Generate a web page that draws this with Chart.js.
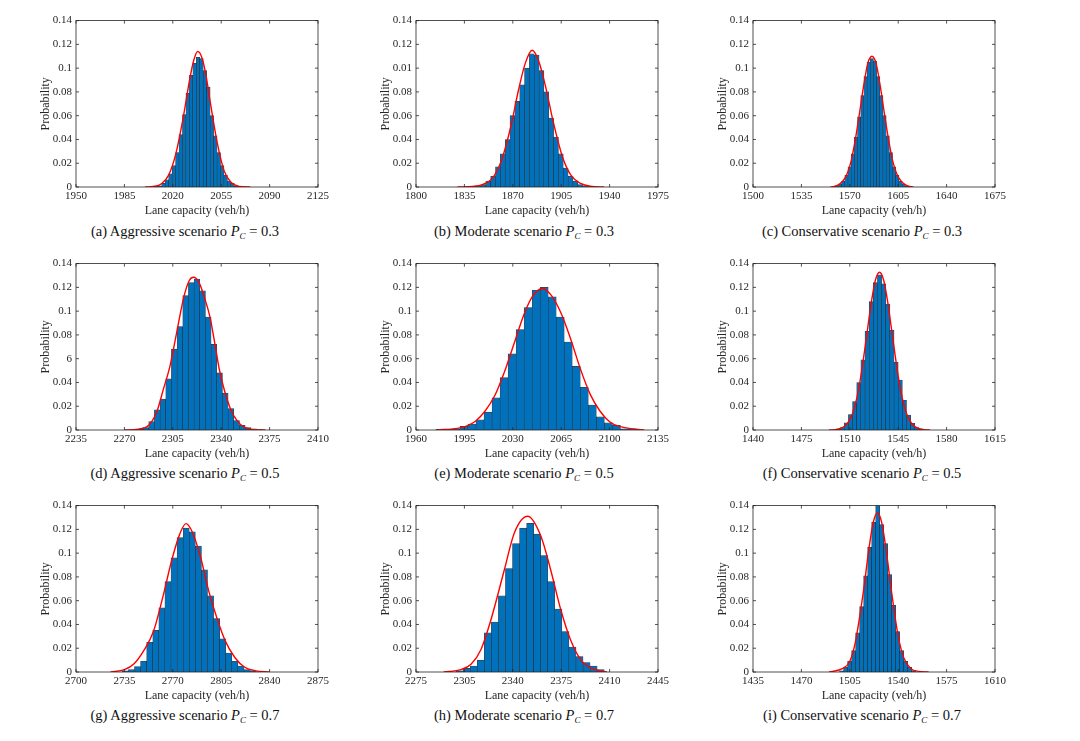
<!DOCTYPE html>
<html>
<head>
<meta charset="utf-8">
<title>Lane capacity distributions</title>
<script src="https://cdn.jsdelivr.net/npm/chart.js@4.4.0/dist/chart.umd.min.js"></script>
<style>
  body { margin: 0; background: #fff; }
  #wrap { position: relative; width: 1080px; height: 741px; overflow: hidden; }
  #wrap canvas { position: absolute; }
  .cap { position: absolute; width: 320px; text-align: center; white-space: nowrap;
         font-family: "Liberation Serif", serif; font-size: 14.5px; line-height: 16px; color: #111; }
  .cap sub { font-size: 9px; vertical-align: -3px; line-height: 0; }
</style>
</head>
<body>
<div id="wrap"></div>
<script>
// Tick labels (copied as printed, typos included)
const yTicksStd = ["0", "0.02", "0.04", "0.06", "0.08", "0.1", "0.12", "0.14"];
const yTicksB = ["0", "0.02", "0.04", "0.06", "0.08", "0.01", "0.12", "0.14"];
const yTicksD = ["0", "0.02", "0.04", "6", "0.08", "0.1", "0.12", "0.14"];

const xTicksA = ["1950", "1985", "2020", "2055", "2090", "2125"];
const xTicksB = ["1800", "1835", "1870", "1905", "1940", "1975"];
const xTicksC = ["1500", "1535", "1570", "1605", "1640", "1675"];
const xTicksD = ["2235", "2270", "2305", "2340", "2375", "2410"];
const xTicksE = ["1960", "1995", "2030", "2065", "2100", "2135"];
const xTicksF = ["1440", "1475", "1510", "1545", "1580", "1615"];
const xTicksG = ["2700", "2735", "2770", "2805", "2840", "2875"];
const xTicksH = ["2275", "2305", "2340", "2375", "2410", "2445"];
const xTicksI = ["1435", "1470", "1505", "1540", "1575", "1610"];

// axis start (veh/h), each axis spans 175 veh/h
const xMins = [1950, 1800, 1500, 2235, 1960, 1440, 2700, 2270, 1435];

// histogram bins: first bin edge, bin width, probabilities
const binStartA = 2007, binWidthA = 2.5;
const barsA = [0.0005, 0.001, 0.003, 0.006, 0.011, 0.018, 0.029, 0.044, 0.061, 0.079, 0.094, 0.104,
  0.109, 0.108, 0.098, 0.084, 0.060, 0.043, 0.029, 0.018, 0.010, 0.005, 0.003, 0.001, 0.0005];
const binStartB = 1840, binWidthB = 3.5;
const barsB = [0.0005, 0.001, 0.002, 0.005, 0.009, 0.017, 0.028, 0.040, 0.060, 0.072, 0.086, 0.100,
  0.112, 0.111, 0.098, 0.080, 0.058, 0.042, 0.028, 0.016, 0.009, 0.005, 0.002, 0.001, 0.0005];
const binStartC = 1559.5, binWidthC = 2.3;
const barsC = [0.001, 0.0025, 0.005, 0.010, 0.017, 0.028, 0.042, 0.059, 0.077, 0.093, 0.105, 0.108,
  0.106, 0.093, 0.077, 0.060, 0.043, 0.029, 0.017, 0.010, 0.005, 0.0025, 0.001, 0.0005];
const binStartD = 2279.4, binWidthD = 4.1;
const barsD = [0.0005, 0.002, 0.007, 0.017, 0.026, 0.043, 0.068, 0.087, 0.113, 0.124, 0.127, 0.117,
  0.095, 0.072, 0.048, 0.031, 0.018, 0.008, 0.004, 0.002, 0.001, 0.0004];
const binStartE = 1974.4, binWidthE = 5.8;
const barsE = [0.0005, 0.0008, 0.001, 0.003, 0.005, 0.0085, 0.015, 0.027, 0.044, 0.064, 0.0845, 0.103,
  0.1175, 0.120, 0.112, 0.095, 0.074, 0.0535, 0.036, 0.021, 0.011, 0.006, 0.004, 0.001, 0.001];
const binStartF = 1500, binWidthF = 3.0;
const barsF = [0.001, 0.002, 0.006, 0.013, 0.024, 0.040, 0.059, 0.083, 0.108, 0.124, 0.1305,
  0.123, 0.106, 0.084, 0.057, 0.042, 0.025, 0.0126, 0.0056, 0.002, 0.001];
const binStartG = 2733.5, binWidthG = 4.4;
const barsG = [0.001, 0.002, 0.0045, 0.009, 0.025, 0.035, 0.054, 0.076, 0.096, 0.113, 0.121,
  0.118, 0.106, 0.086, 0.064, 0.045, 0.028, 0.016, 0.009, 0.005, 0.002, 0.001];
const binStartH = 2299, binWidthH = 5.1;
const barsH = [0.001, 0.003, 0.005, 0.010, 0.033, 0.042, 0.064, 0.087, 0.108, 0.121, 0.125,
  0.116, 0.098, 0.076, 0.053, 0.034, 0.021, 0.013, 0.008, 0.005, 0.002];
const binStartI = 1497.6, binWidthI = 2.9;
const barsI = [0.001, 0.004, 0.009, 0.018, 0.033, 0.055, 0.081, 0.105, 0.126, 0.140, 0.124,
  0.108, 0.082, 0.056, 0.034, 0.018, 0.009, 0.004, 0.001];

// fitted normal curves
const curveXA = [2000, 2008, 2012, 2017, 2022, 2027, 2032, 2035, 2038, 2041, 2044, 2047, 2052, 2057, 2062, 2068, 2076];
const curveYA = [0, 0.0008, 0.003, 0.010, 0.027, 0.055, 0.089, 0.106, 0.114, 0.109, 0.094, 0.072, 0.038, 0.014, 0.004, 0.0005, 0];
const curveXB = [1830, 1841, 1848, 1855, 1862, 1869, 1874, 1879, 1884, 1889, 1894, 1899, 1906, 1912, 1919, 1926, 1936];
const curveYB = [0, 0.0005, 0.002, 0.007, 0.023, 0.053, 0.081, 0.104, 0.115, 0.105, 0.083, 0.056, 0.025, 0.010, 0.003, 0.0006, 0];
const curveXC = [1556, 1561, 1565, 1568, 1571, 1574, 1577, 1580, 1583, 1586, 1589, 1592, 1595, 1598, 1601, 1604, 1607, 1611, 1616];
const curveYC = [0, 0.0013, 0.005, 0.011, 0.022, 0.040, 0.062, 0.085, 0.104, 0.110, 0.104, 0.085, 0.062, 0.040, 0.022, 0.011, 0.005, 0.0013, 0];
const curveXD = [2270, 2285, 2293.3, 2298.1, 2303, 2307.8, 2313, 2317, 2320, 2324, 2328, 2331.9, 2335.5, 2339, 2346.3, 2352, 2360, 2372];
const curveYD = [0, 0.002, 0.015, 0.034, 0.054, 0.082, 0.112, 0.126, 0.1285, 0.124, 0.111, 0.095, 0.072, 0.049, 0.019, 0.007, 0.001, 0];
const curveXE = [1975, 1990, 1996, 2003, 2010, 2017, 2024, 2031, 2038, 2044, 2051.3, 2058, 2065, 2072, 2079, 2086, 2093, 2100, 2107, 2125];
const curveYE = [0, 0.0014, 0.0031, 0.0074, 0.016, 0.029, 0.049, 0.073, 0.097, 0.112, 0.119, 0.113, 0.098, 0.076, 0.051, 0.030, 0.016, 0.007, 0.003, 0];
const curveXF = [1495, 1501.5, 1506.5, 1510.5, 1513.5, 1516.5, 1519.5, 1522.5, 1525.5, 1528.5, 1531.5, 1534.5, 1537.5, 1540.5, 1543.5, 1546.5, 1549.5, 1552.5, 1556.5, 1561.5, 1568];
const curveYF = [0, 0.0007, 0.0033, 0.0098, 0.0195, 0.035, 0.057, 0.082, 0.107, 0.126, 0.1327, 0.126, 0.107, 0.082, 0.057, 0.035, 0.0195, 0.0098, 0.0033, 0.0007, 0];
const curveXG = [2725, 2735, 2742, 2749, 2756, 2763, 2769, 2775, 2779.5, 2784, 2790, 2796, 2802, 2808, 2815, 2822, 2830, 2840];
const curveYG = [0, 0.002, 0.007, 0.018, 0.034, 0.064, 0.093, 0.116, 0.1248, 0.118, 0.097, 0.068, 0.045, 0.026, 0.012, 0.004, 0.001, 0];
const curveXH = [2290, 2302.5, 2309.8, 2317, 2324.2, 2333.9, 2341.1, 2350.8, 2360.4, 2367.6, 2374.8, 2382.1, 2389.3, 2397, 2408];
const curveYH = [0, 0.002, 0.0065, 0.019, 0.044, 0.086, 0.117, 0.131, 0.114, 0.085, 0.052, 0.026, 0.010, 0.003, 0];
const curveXI = [1490, 1500, 1505, 1509, 1514.75, 1519, 1522, 1525, 1528, 1531, 1535.25, 1540, 1544, 1549, 1555, 1562];
const curveYI = [0, 0.003, 0.009, 0.025, 0.067, 0.105, 0.126, 0.134, 0.126, 0.105, 0.067, 0.030, 0.012, 0.003, 0.0005, 0];

const captions = [
  "(a) Aggressive scenario", "(b) Moderate scenario", "(c) Conservative scenario",
  "(d) Aggressive scenario", "(e) Moderate scenario", "(f) Conservative scenario",
  "(g) Aggressive scenario", "(h) Moderate scenario", "(i) Conservative scenario"
];
const pcValues = ["0.3", "0.3", "0.3", "0.5", "0.5", "0.5", "0.7", "0.7", "0.7"];

const panels = [
  [xTicksA, yTicksStd, binStartA, binWidthA, barsA, curveXA, curveYA],
  [xTicksB, yTicksB, binStartB, binWidthB, barsB, curveXB, curveYB],
  [xTicksC, yTicksStd, binStartC, binWidthC, barsC, curveXC, curveYC],
  [xTicksD, yTicksD, binStartD, binWidthD, barsD, curveXD, curveYD],
  [xTicksE, yTicksStd, binStartE, binWidthE, barsE, curveXE, curveYE],
  [xTicksF, yTicksStd, binStartF, binWidthF, barsF, curveXF, curveYF],
  [xTicksG, yTicksStd, binStartG, binWidthG, barsG, curveXG, curveYG],
  [xTicksH, yTicksStd, binStartH, binWidthH, barsH, curveXH, curveYH],
  [xTicksI, yTicksStd, binStartI, binWidthI, barsI, curveXI, curveYI]
];

// page layout
const colLeft = [76, 416, 753];
const rowTop = [20, 263, 505];
const capCenter = [185, 524, 862];
const capY = [231, 473, 715];
const plotW = 242, plotH = 167;
const padL = 37, padT = 10, padR = 14, padB = 31;
const axisColor = "#262626";
const serif = "Liberation Serif";

// MATLAB style box with inward ticks on all four sides
const boxTicks = {
  id: "boxTicks",
  afterDraw(chart) {
    const { ctx, chartArea: a, scales: { x, y } } = chart;
    ctx.save();
    ctx.strokeStyle = axisColor;
    ctx.lineWidth = 0.8;
    ctx.beginPath();
    x.ticks.forEach((t, i) => {
      const px = x.getPixelForTick(i);
      ctx.moveTo(px, a.bottom); ctx.lineTo(px, a.bottom - 3);
      ctx.moveTo(px, a.top); ctx.lineTo(px, a.top + 3);
    });
    y.ticks.forEach((t, i) => {
      const py = y.getPixelForTick(i);
      ctx.moveTo(a.left, py); ctx.lineTo(a.left + 3, py);
      ctx.moveTo(a.right, py); ctx.lineTo(a.right - 3, py);
    });
    ctx.stroke();
    ctx.strokeRect(a.left, a.top, a.right - a.left, a.bottom - a.top);
    ctx.restore();
  }
};

const wrap = document.getElementById("wrap");

panels.forEach((p, n) => {
  const [xLabels, yLabels, start, width, bars, curveX, curveY] = p;
  const col = n % 3, row = Math.floor(n / 3);

  const canvas = document.createElement("canvas");
  canvas.width = padL + plotW + padR;
  canvas.height = padT + plotH + padB;
  canvas.style.left = (colLeft[col] - padL) + "px";
  canvas.style.top = (rowTop[row] - padT) + "px";
  wrap.appendChild(canvas);

  const cap = document.createElement("div");
  cap.className = "cap";
  cap.style.left = (capCenter[col] - 160) + "px";
  cap.style.top = (capY[row] - 8) + "px";
  cap.innerHTML = captions[n] + " <i>P<sub>C</sub></i> = " + pcValues[n];
  wrap.appendChild(cap);

  new Chart(canvas, {
    data: {
      datasets: [
        {
          type: "line",
          data: curveX.map((x, i) => ({ x: x, y: curveY[i] })),
          borderColor: "#ff0000",
          borderWidth: 1.4,
          pointRadius: 0,
          cubicInterpolationMode: "monotone",
          fill: false,
          order: 1
        },
        {
          type: "bar",
          data: bars.map((v, i) => ({ x: start + width * (i + 0.5), y: v })),
          backgroundColor: "#0072bd",
          borderColor: "rgba(25,25,25,0.85)",
          borderWidth: 0.6,
          barPercentage: 1,
          categoryPercentage: 1,
          order: 2
        }
      ]
    },
    options: {
      responsive: false,
      animation: false,
      layout: { padding: { top: padT, right: padR, left: 0, bottom: 0 } },
      plugins: { legend: { display: false }, tooltip: { enabled: false } },
      scales: {
        x: {
          type: "linear",
          min: xMins[n],
          max: xMins[n] + 175,
          offset: false,
          grid: { display: false, drawTicks: false },
          border: { display: false },
          ticks: {
            stepSize: 35, autoSkip: false, maxRotation: 0, padding: 3,
            color: axisColor, font: { family: serif, size: 11 },
            callback: (v, i) => xLabels[i]
          },
          title: {
            display: true, text: "Lane capacity (veh/h)", padding: 0,
            color: axisColor, font: { family: serif, size: 12 }
          },
          afterFit: s => { s.height = padB; }
        },
        y: {
          min: 0,
          max: 0.14,
          grid: { display: false, drawTicks: false },
          border: { display: false },
          ticks: {
            stepSize: 0.02, padding: 4,
            color: axisColor, font: { family: serif, size: 11 },
            callback: (v, i) => yLabels[i]
          },
          title: {
            display: true, text: "Probability", padding: 0,
            color: axisColor, font: { family: serif, size: 12 }
          },
          afterFit: s => { s.width = padL; }
        }
      }
    },
    plugins: [boxTicks]
  });
});
</script>
</body>
</html>
